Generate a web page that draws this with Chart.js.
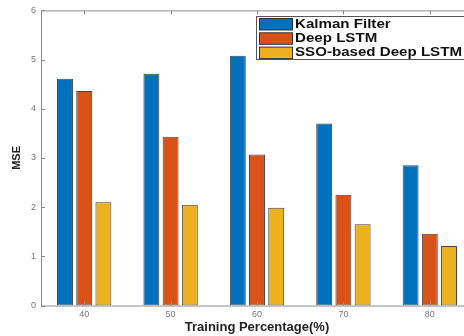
<!DOCTYPE html>
<html>
<head>
<meta charset="utf-8">
<script src="https://cdn.jsdelivr.net/npm/chart.js@4"></script>
<style>
  html, body { margin: 0; padding: 0; background: #fff; overflow: hidden; }
  #chart { display: block; }
</style>
</head>
<body>
<canvas id="chart" width="480" height="336"></canvas>
<script>
// data
const categories = ['40', '50', '60', '70', '80'];
const seriesNames = ['Kalman Filter', 'Deep LSTM', 'SSO-based Deep LSTM'];
const kalmanFilter = [4.61, 4.71, 5.08, 3.70, 2.85];
const deepLstm = [4.36, 3.43, 3.07, 2.25, 1.46];
const ssoDeepLstm = [2.10, 2.05, 1.99, 1.65, 1.21];
const seriesColors = ['#0072BD', '#D95319', '#EDB120'];

const axisColor = '#8c8c8c';

// MATLAB style box with inward ticks + the legend
const boxPlugin = {
    id: 'boxPlugin',
    afterDraw: function (chart) {
        var ctx = chart.ctx;
        var a = chart.chartArea;
        var xs = chart.scales.x;
        var ys = chart.scales.y;
        ctx.save();
        ctx.strokeStyle = axisColor;
        ctx.lineWidth = 1;
        ctx.strokeRect(a.left + 0.5, a.top + 0.5, a.right - a.left, a.bottom - a.top);
        ctx.beginPath();
        for (var i = 0; i < categories.length; i++) {
            var x = Math.round(xs.getPixelForTick(i)) + 0.5;
            ctx.moveTo(x, a.bottom);
            ctx.lineTo(x, a.bottom - 4);
            ctx.moveTo(x, a.top);
            ctx.lineTo(x, a.top + 4);
        }
        ys.ticks.forEach(function (t, i) {
            var y = Math.round(ys.getPixelForTick(i)) + 0.5;
            ctx.moveTo(a.left, y);
            ctx.lineTo(a.left + 4, y);
            ctx.moveTo(a.right, y);
            ctx.lineTo(a.right - 4, y);
        });
        ctx.stroke();

        // legend
        var lx = 256.5, ly = 16.5, lw = 220, lh = 43;
        ctx.fillStyle = '#fff';
        ctx.fillRect(lx, ly, lw, lh);
        ctx.strokeStyle = '#555';
        ctx.strokeRect(lx, ly, lw, lh);
        ctx.font = 'bold 12px "Liberation Sans", Arial, sans-serif';
        ctx.textBaseline = 'middle';
        ctx.textAlign = 'left';
        var sx = 167 / ctx.measureText(seriesNames[2]).width;
        chart.data.datasets.forEach(function (ds, i) {
            var cy = 24 + i * 14.3;
            ctx.fillStyle = ds.backgroundColor;
            ctx.fillRect(259.5, cy - 5.5, 33, 11.5);
            ctx.strokeStyle = '#333';
            ctx.strokeRect(259.5, cy - 5.5, 33, 11.5);
            ctx.save();
            ctx.translate(295, cy + 0.5);
            ctx.scale(sx, 1);
            ctx.fillStyle = '#111';
            ctx.fillText(ds.label, 0, 0);
            ctx.restore();
        });
        ctx.restore();
    }
};

const config = {
    type: 'bar',
    data: {
        labels: categories,
        datasets: [kalmanFilter, deepLstm, ssoDeepLstm].map(function (vals, i) {
            return {
                label: seriesNames[i],
                data: vals,
                backgroundColor: seriesColors[i],
                borderColor: '#444',
                borderWidth: 1,
                borderSkipped: false,
                categoryPercentage: 0.667,
                barPercentage: 0.83
            };
        })
    },
    options: {
        responsive: false,
        animation: false,
        layout: { padding: { left: 0, right: 7, top: 9.5, bottom: 0 } },
        plugins: {
            legend: { display: false },
            tooltip: { enabled: false }
        },
        scales: {
            x: {
                grid: { display: false, drawTicks: false },
                border: { display: false },
                ticks: {
                    color: '#777',
                    padding: 4,
                    font: { family: '"Liberation Sans", Arial, sans-serif', size: 9 }
                },
                title: {
                    display: true,
                    text: 'Training Percentage(%)',
                    color: '#222',
                    padding: { top: 1, bottom: 1 },
                    font: { family: '"Liberation Sans", Arial, sans-serif', size: 13, weight: 'bold' }
                },
                afterFit: function (scale) { scale.height = 30.5; }
            },
            y: {
                min: 0,
                max: 6,
                grid: { display: false, drawTicks: false },
                border: { display: false },
                ticks: {
                    stepSize: 1,
                    color: '#777',
                    padding: 5,
                    font: { family: '"Liberation Sans", Arial, sans-serif', size: 9 }
                },
                title: {
                    display: true,
                    text: 'MSE',
                    color: '#222',
                    padding: { top: 10, bottom: 0 },
                    font: { family: '"Liberation Sans", Arial, sans-serif', size: 11, weight: 'bold' }
                },
                afterFit: function (scale) { scale.width = 41; }
            }
        }
    },
    plugins: [boxPlugin]
};

new Chart(document.getElementById('chart').getContext('2d'), config);
</script>
</body>
</html>
